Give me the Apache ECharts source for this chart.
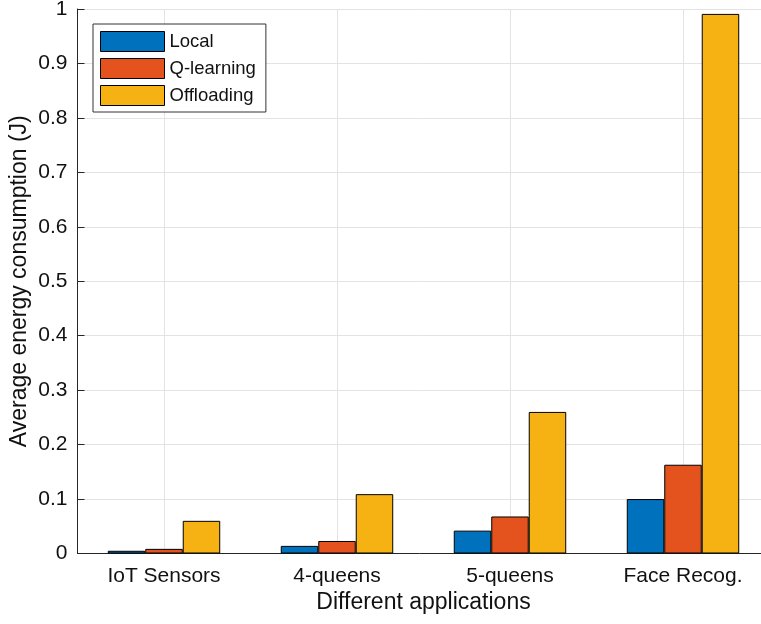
<!DOCTYPE html>
<html>
<head>
<meta charset="utf-8">
<script src="https://cdn.jsdelivr.net/npm/echarts@6/dist/echarts.min.js"></script>
<style>
  html, body { margin: 0; padding: 0; background: #fff; }
  #chart { width: 761px; height: 624px; }
</style>
</head>
<body>
<div id="chart"></div>
<script>
// Application categories along the x axis
const categories = ['IoT Sensors', '4-queens', '5-queens', 'Face Recog.'];

// Average energy consumption (J) per scheme
const localValues = [0.005, 0.014, 0.042, 0.100];
const qLearningValues = [0.0085, 0.023, 0.068, 0.163];
const offloadingValues = [0.060, 0.109, 0.260, 0.991];

// Y axis tick labels
const yTicks = [0, 0.1, 0.2, 0.3, 0.4, 0.5, 0.6, 0.7, 0.8, 0.9, 1];

const FONT = '"Liberation Sans", Arial, Helvetica, sans-serif';
const colors = ['#0071BD', '#E4521E', '#F6B213'];

const chart = echarts.init(document.getElementById('chart'), null, { renderer: 'canvas' });

function barSeries(name, data, color) {
  return {
    name: name,
    type: 'bar',
    data: data,
    barGap: '0%',
    barCategoryGap: '35%',
    itemStyle: { color: color, borderColor: '#000', borderWidth: 1 },
    emphasis: { disabled: true }
  };
}

chart.setOption({
  animation: false,
  backgroundColor: '#fff',
  grid: { left: 77.5, right: -8.5, top: 9, bottom: 70.5, outerBoundsMode: 'none', containLabel: false },
  legend: {
    left: 93,
    top: 24,
    orient: 'vertical',
    itemWidth: 64,
    itemHeight: 20,
    itemGap: 6,
    padding: [7, 10, 6, 7],
    borderColor: '#333',
    borderWidth: 1,
    backgroundColor: '#fff',
    icon: 'rect',
    textStyle: { fontFamily: FONT, fontSize: 18.5, color: '#111' },
    itemStyle: { borderColor: '#000', borderWidth: 1 },
    data: ['Local', 'Q-learning', 'Offloading']
  },
  xAxis: {
    type: 'category',
    data: categories,
    name: 'Different applications',
    nameLocation: 'middle',
    nameGap: 38,
    nameMoveOverlap: false,
    nameTextStyle: { fontFamily: FONT, fontSize: 23, color: '#111' },
    axisLine: { show: true, lineStyle: { color: '#262626', width: 1 } },
    axisTick: { show: false },
    axisLabel: { fontFamily: FONT, fontSize: 21, color: '#111', margin: 12 },
    splitLine: { show: true, alignWithLabel: true, lineStyle: { color: '#e3e3e3', width: 1 } }
  },
  yAxis: {
    type: 'value',
    min: yTicks[0],
    max: yTicks[yTicks.length - 1],
    interval: 0.1,
    name: 'Average energy consumption (J)',
    nameLocation: 'middle',
    nameGap: 46,
    nameMoveOverlap: false,
    nameTextStyle: { fontFamily: FONT, fontSize: 23, color: '#111' },
    axisLine: { show: true, lineStyle: { color: '#262626', width: 1 } },
    axisTick: { show: true, inside: true, length: 7, lineStyle: { color: '#262626' } },
    axisLabel: {
      fontFamily: FONT, fontSize: 21, color: '#111', margin: 10,
      formatter: function (v) { return String(Math.round(v * 10) / 10); }
    },
    splitLine: { show: true, lineStyle: { color: '#e3e3e3', width: 1 } }
  },
  series: [
    barSeries('Local', localValues, colors[0]),
    barSeries('Q-learning', qLearningValues, colors[1]),
    barSeries('Offloading', offloadingValues, colors[2])
  ]
});
</script>
</body>
</html>
